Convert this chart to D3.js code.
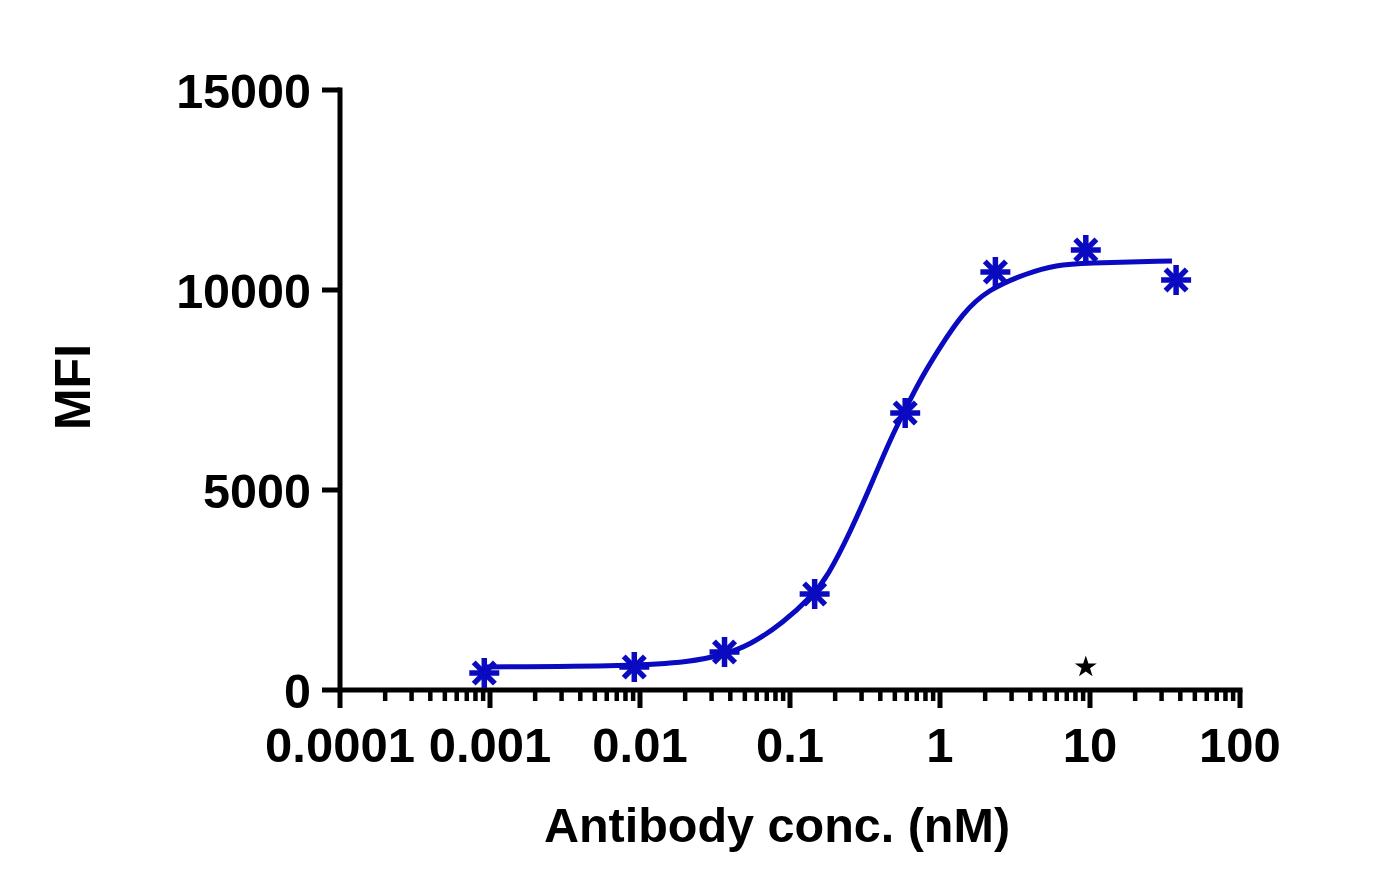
<!DOCTYPE html>
<html>
<head>
<meta charset="utf-8">
<script src="https://cdn.jsdelivr.net/npm/d3@7"></script>
<style>
body { margin: 0; background: #fff; }
text { font-family: "Liberation Sans", Arial, sans-serif; font-weight: bold; fill: #000; }
</style>
</head>
<body>
<div id="chart"></div>
<script>
// measured points (nM, MFI)
var conc = [0.000916, 0.00916, 0.0366, 0.146, 0.586, 2.34, 9.375, 37.5];
var mfi = [425, 575, 950, 2400, 6925, 10450, 11000, 10250];

// fitted curve
var curveConc = [0.000898, 0.00898, 0.0215, 0.0358, 0.0541, 0.0898, 0.142, 0.177, 0.251, 0.358, 0.464, 0.584, 0.736, 1.0, 1.42, 2.06, 3.80, 6.03, 8.98, 35.2];
var curveMfi = [575, 600, 700, 875, 1125, 1675, 2375, 2825, 3925, 5250, 6250, 7000, 7750, 8575, 9425, 10000, 10425, 10625, 10675, 10725];

var xTicks = [0.0001, 0.001, 0.01, 0.1, 1, 10, 100];
var xTickLabels = ["0.0001", "0.001", "0.01", "0.1", "1", "10", "100"];
var yTicks = [0, 5000, 10000, 15000];

// star annotation
var starConc = [9.375];
var starMfi = [575];

var blue = "#0a0ac0";

var svg = d3.select("#chart").append("svg")
    .attr("width", 1392).attr("height", 894)

var x = d3.scaleLog().domain([0.0001, 100]).range([340, 1240])
var y = d3.scaleLinear().domain([0, 15000]).range([690, 90])

// minor ticks 2..9 per decade
var minor = []
for (var i = 0; i < xTicks.length - 1; i++) {
    for (var k = 2; k <= 9; k++) minor.push(xTicks[i] * k)
}

var xAxis = svg.append("g").attr("transform", "translate(0,690)")
xAxis.selectAll(".minor").data(minor).enter().append("line")
    .attr("x1", d => x(d)).attr("x2", d => x(d))
    .attr("y1", 0).attr("y2", 11)
    .attr("stroke", "#000").attr("stroke-width", 4.5)
xAxis.selectAll(".major").data(xTicks).enter().append("line")
    .attr("x1", d => x(d)).attr("x2", d => x(d))
    .attr("y1", 0).attr("y2", 18)
    .attr("stroke", "#000").attr("stroke-width", 5)
xAxis.append("line").attr("x1", 338).attr("x2", 1242.5)
    .attr("stroke", "#000").attr("stroke-width", 5)
xAxis.selectAll(".lab").data(xTicks).enter().append("text")
    .attr("x", d => x(d)).attr("y", 72)
    .attr("text-anchor", "middle").attr("font-size", 49)
    .text((d, i) => xTickLabels[i])

var yAxis = svg.append("g")
yAxis.append("line").attr("x1", 340).attr("x2", 340)
    .attr("y1", 87.5).attr("y2", 692.5)
    .attr("stroke", "#000").attr("stroke-width", 5)
yAxis.selectAll(".tick").data(yTicks).enter().append("line")
    .attr("x1", 322).attr("x2", 340)
    .attr("y1", d => y(d)).attr("y2", d => y(d))
    .attr("stroke", "#000").attr("stroke-width", 5)
yAxis.selectAll(".lab").data(yTicks).enter().append("text")
    .attr("x", 311).attr("y", d => y(d) + 18)
    .attr("text-anchor", "end").attr("font-size", 48.5)
    .text(d => d)

svg.append("text").attr("x", 777).attr("y", 842)
    .attr("text-anchor", "middle").attr("font-size", 48.5)
    .text("Antibody conc. (nM)")

svg.append("text").attr("transform", "translate(90,387) rotate(-90)")
    .attr("text-anchor", "middle").attr("font-size", 50)
    .text("MFI")

// fitted curve
var line = d3.line().x(d => x(d[0])).y(d => y(d[1])).curve(d3.curveBasis)
svg.append("path")
    .datum(curveConc.map((c, i) => [c, curveMfi[i]]))
    .attr("d", line).attr("fill", "none")
    .attr("stroke", blue).attr("stroke-width", 5)

// asterisk markers
var r = 15
var marks = svg.selectAll(".pt").data(conc).enter().append("g")
    .attr("transform", (d, i) => "translate(" + x(d) + "," + y(mfi[i]) + ")")
;[0, 45, 90, 135].forEach(function(a) {
    marks.append("line")
        .attr("x1", -r).attr("x2", r).attr("y1", 0).attr("y2", 0)
        .attr("transform", "rotate(" + a + ")")
        .attr("stroke", blue).attr("stroke-width", 5.5)
})

svg.selectAll(".star").data(starConc).enter().append("path")
    .attr("d", d3.symbol().type(d3.symbolStar).size(150))
    .attr("transform", (d, i) => "translate(" + x(d) + "," + y(starMfi[i]) + ")")
    .attr("fill", "#000")
</script>
</body>
</html>
